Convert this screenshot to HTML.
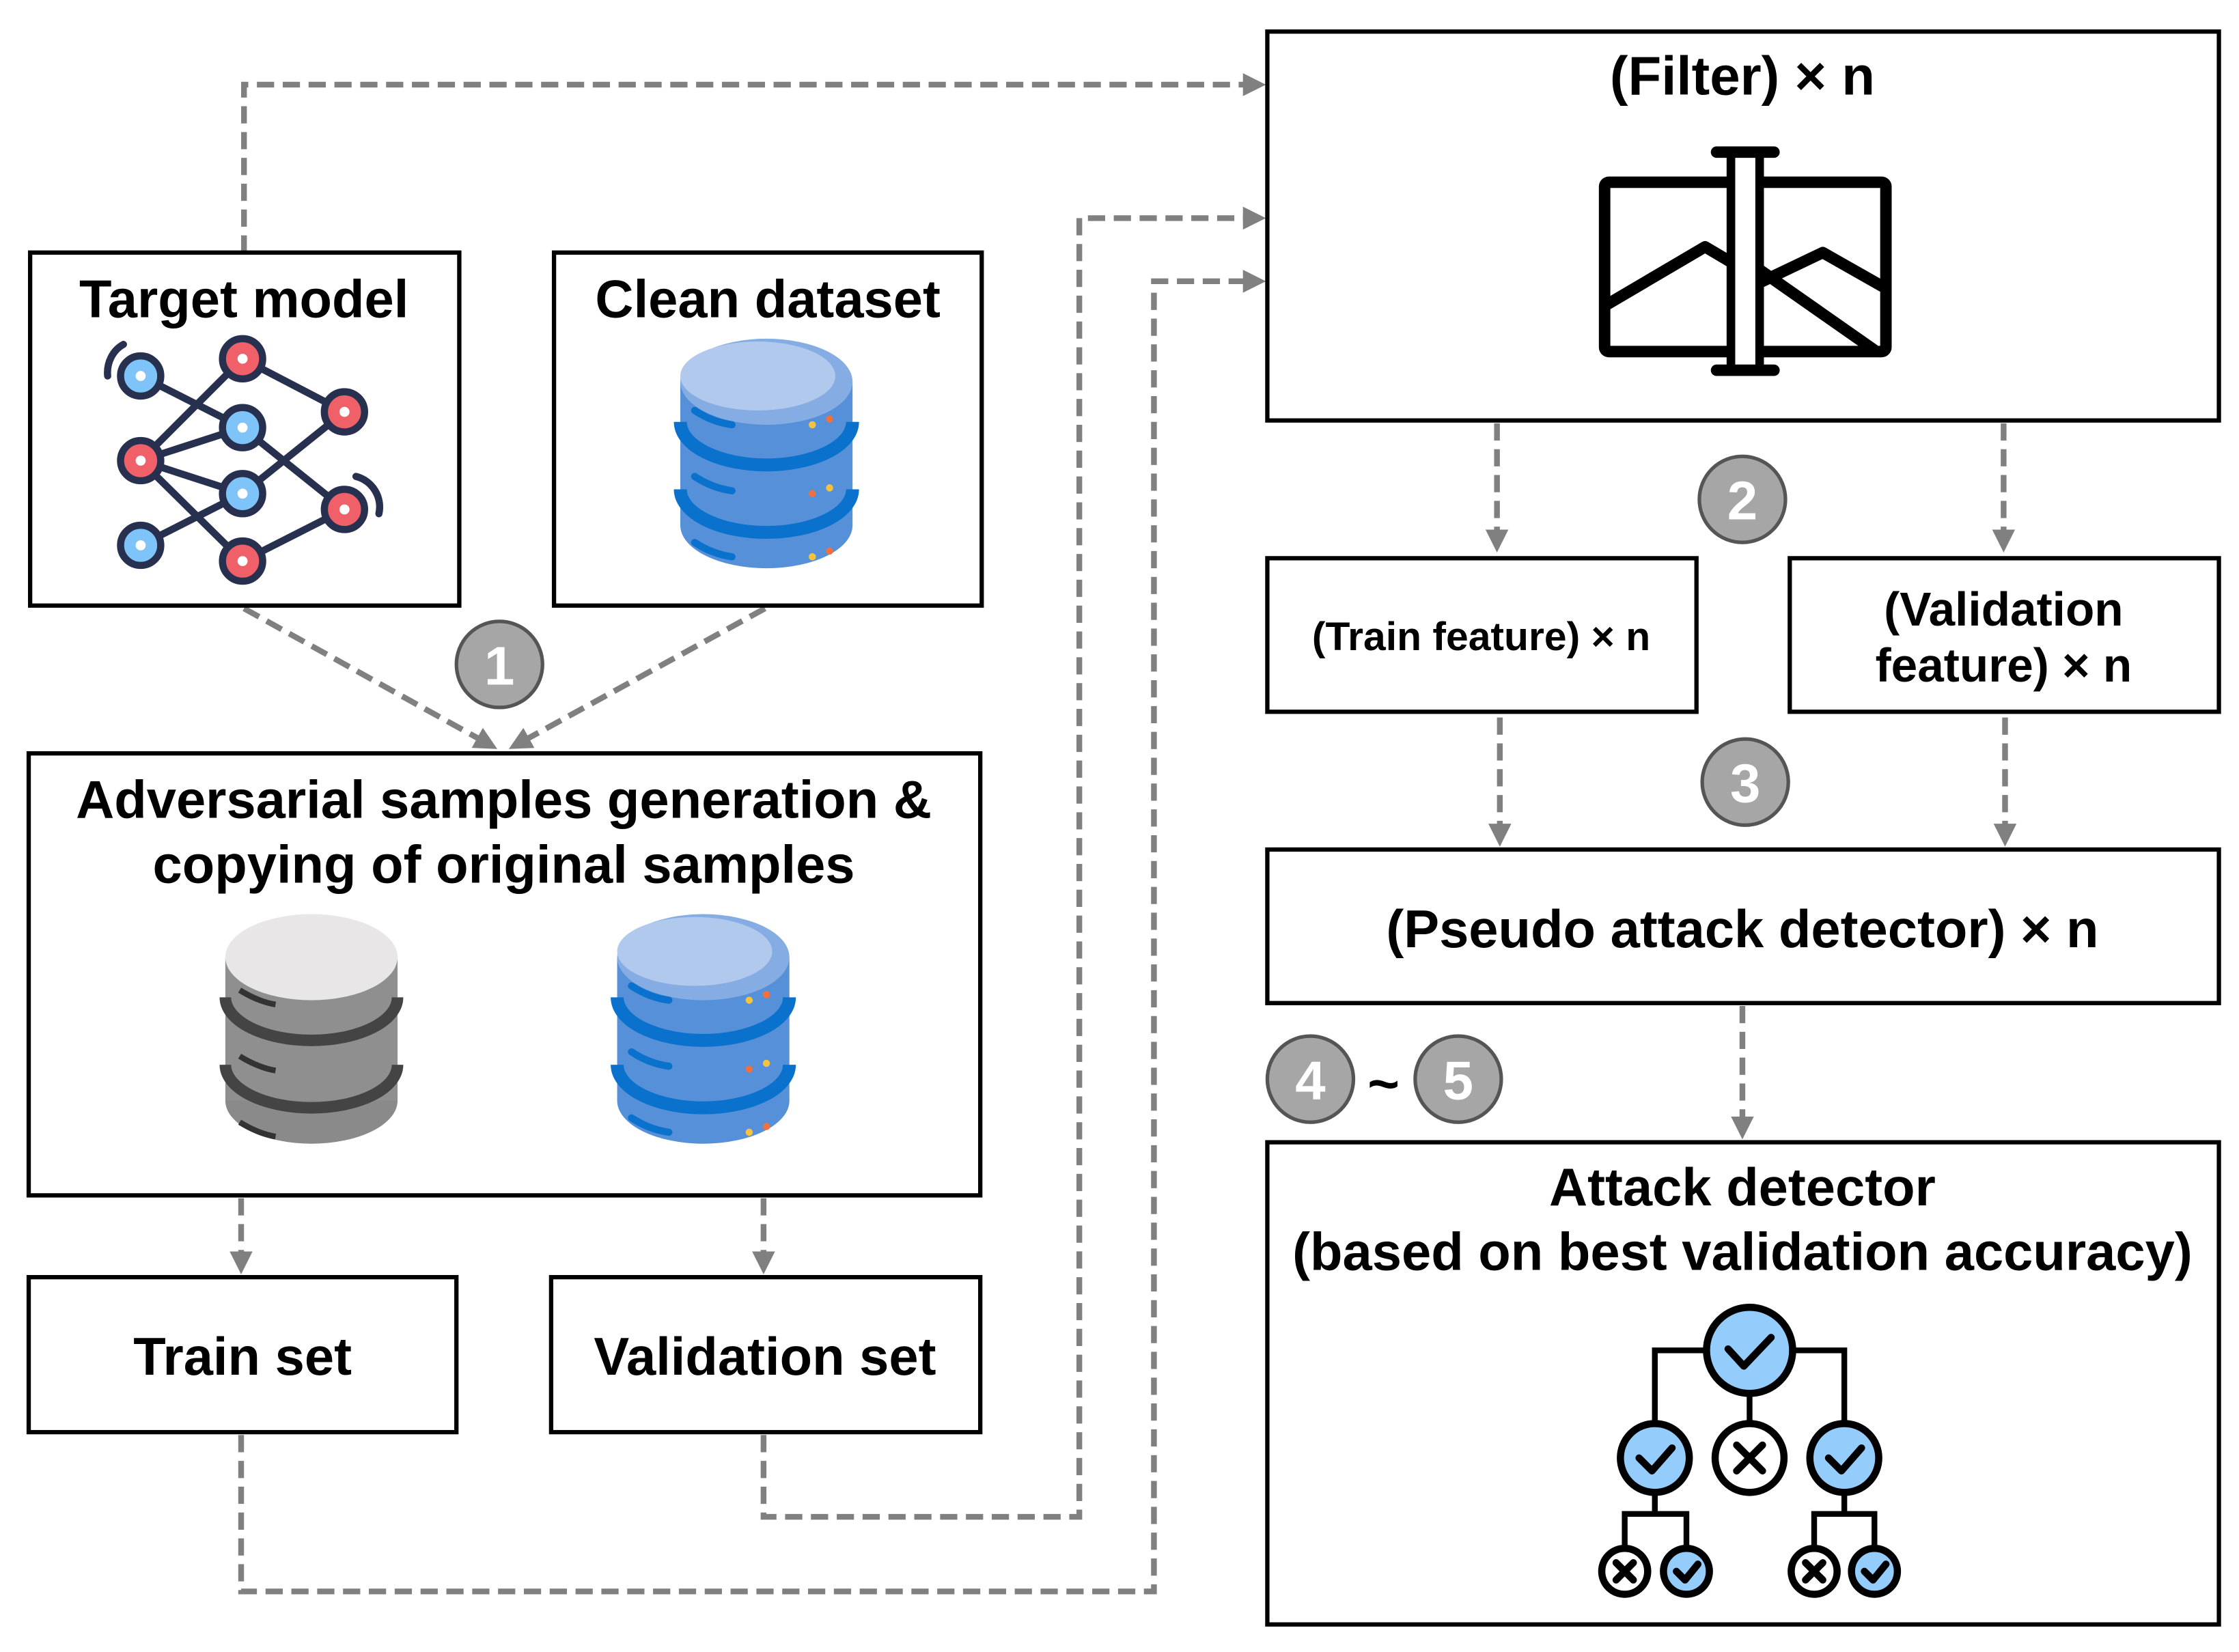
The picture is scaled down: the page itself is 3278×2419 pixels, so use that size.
<!DOCTYPE html>
<html><head><meta charset="utf-8"><style>
html,body{margin:0;padding:0;background:#fff;}
svg{display:block;}
text{font-family:"Liberation Sans",Arial,sans-serif;font-weight:bold;fill:#000;}
</style></head><body>
<svg width="3278" height="2419" viewBox="0 0 1560 1151.2" preserveAspectRatio="none" xmlns="http://www.w3.org/2000/svg">
<defs>
<marker id="ah" markerWidth="4" markerHeight="4" refX="3" refY="2" orient="auto" markerUnits="strokeWidth">
<path d="M0,0 L4,2 L0,4 z" fill="#808080"/>
</marker>
<g id="db">
<ellipse cx="60" cy="130" rx="60" ry="30" fill="#5590d8"/>
<rect x="0" y="30" width="120" height="100" fill="#5590d8"/>
<path d="M0,58 A60,30 0 0 0 120,58" fill="none" stroke="#0a72cc" stroke-width="9"/>
<path d="M0,105 A60,30 0 0 0 120,105" fill="none" stroke="#0a72cc" stroke-width="9"/>
<ellipse cx="60" cy="30" rx="60" ry="30" fill="#85ade4"/>
<ellipse cx="54" cy="26" rx="54" ry="24" fill="#b0c9ec"/>
<path d="M10,50 Q22,58 36,60 M10,96 Q22,104 36,106 M10,142 Q22,150 36,152" stroke="#0a72cc" stroke-width="5" stroke-linecap="round" fill="none"/>
<circle cx="92" cy="60" r="2.5" fill="#f7c23c"/><circle cx="104" cy="56" r="2.5" fill="#f07040"/>
<circle cx="92" cy="108" r="2.5" fill="#f07040"/><circle cx="104" cy="104" r="2.5" fill="#f7c23c"/>
<circle cx="92" cy="152" r="2.5" fill="#f7c23c"/><circle cx="104" cy="148" r="2.5" fill="#f07040"/>
</g>
</defs>

<!-- connectors -->
<g fill="none" stroke="#808080" stroke-width="4" stroke-dasharray="12,6">
<path d="M170,176 V59 H878" marker-end="url(#ah)"/>
<path d="M532,1000 V1057 H752 V152 H878" marker-end="url(#ah)"/>
<path d="M168,1000 V1109 H804 V196 H878" marker-end="url(#ah)"/>
<path d="M170,424 L343,520" marker-end="url(#ah)"/>
<path d="M533,424 L358,520" marker-end="url(#ah)"/>
<path d="M168,835 V884" marker-end="url(#ah)"/>
<path d="M532,835 V884" marker-end="url(#ah)"/>
<path d="M1043,295 V381" marker-end="url(#ah)"/>
<path d="M1396,295 V381" marker-end="url(#ah)"/>
<path d="M1045,500 V586" marker-end="url(#ah)"/>
<path d="M1397,500 V586" marker-end="url(#ah)"/>
<path d="M1214,701 V790" marker-end="url(#ah)"/>
</g>

<!-- boxes -->
<g fill="#fff" stroke="#000" stroke-width="3">
<rect x="21" y="176" width="299" height="246"/>
<rect x="386" y="176" width="298" height="246"/>
<rect x="20" y="525" width="663" height="308"/>
<rect x="20" y="890" width="298" height="108"/>
<rect x="384" y="890" width="299" height="108"/>
<rect x="883" y="22" width="663" height="271"/>
<rect x="883" y="389" width="299" height="107"/>
<rect x="1247" y="389" width="299" height="107"/>
<rect x="883" y="592" width="663" height="107"/>
<rect x="883" y="796" width="663" height="336"/>
</g>

<!-- texts -->
<text x="170" y="221" font-size="37" text-anchor="middle">Target model</text>
<text x="535" y="221" font-size="37" text-anchor="middle">Clean dataset</text>
<text x="351" y="570" font-size="37" text-anchor="middle">Adversarial samples generation &amp;</text>
<text x="351" y="615" font-size="37" text-anchor="middle">copying of original samples</text>
<text x="169" y="958" font-size="37" text-anchor="middle">Train set</text>
<text x="533" y="958" font-size="37" text-anchor="middle">Validation set</text>
<text x="1214" y="66" font-size="38" text-anchor="middle">(Filter) × n</text>
<text x="1032" y="453" font-size="28" text-anchor="middle">(Train feature) × n</text>
<text x="1396" y="436" font-size="33" text-anchor="middle">(Validation</text>
<text x="1396" y="475" font-size="33" text-anchor="middle">feature) × n</text>
<text x="1214" y="660" font-size="37" text-anchor="middle">(Pseudo attack detector) × n</text>
<text x="1214" y="840" font-size="37" text-anchor="middle">Attack detector</text>
<text x="1214" y="885" font-size="37" text-anchor="middle">(based on best validation accuracy)</text>

<!-- step circles -->
<g stroke="#555" stroke-width="2.5" fill="#a6a6a6">
<circle cx="348" cy="463" r="30"/>
<circle cx="1214" cy="348" r="30"/>
<circle cx="1216" cy="545" r="30"/>
<circle cx="913" cy="752" r="30"/>
<circle cx="1016" cy="752" r="30"/>
</g>
<g font-size="38" text-anchor="middle">
<text x="348" y="477" style="fill:#fff">1</text>
<text x="1214" y="362" style="fill:#fff">2</text>
<text x="1216" y="559" style="fill:#fff">3</text>
<text x="913" y="766" style="fill:#fff">4</text>
<text x="1016" y="766" style="fill:#fff">5</text>
</g>
<text x="964" y="768" font-size="38" text-anchor="middle">~</text>

<!-- neural net icon -->
<g stroke="#283050" stroke-width="5" fill="none">
<path d="M98,262 L169,298 M98,321 L169,250 M98,321 L169,298 M98,321 L169,344 M98,321 L169,391 M98,380 L169,344 M169,250 L240,287 M169,298 L240,355 M169,344 L240,287 M169,391 L240,355"/>
<path d="M75,262 A20,22 0 0 1 86,240" stroke-linecap="round"/>
<path d="M248,332 A22,22 0 0 1 264,358" stroke-linecap="round"/>
</g>
<g stroke="#283050" stroke-width="5">
<circle cx="98" cy="262" r="14" fill="#7ec4f8"/>
<circle cx="169" cy="250" r="14" fill="#f06068"/>
<circle cx="169" cy="298" r="14" fill="#7ec4f8"/>
<circle cx="240" cy="287" r="14" fill="#f06068"/>
<circle cx="98" cy="321" r="14" fill="#f06068"/>
<circle cx="169" cy="344" r="14" fill="#7ec4f8"/>
<circle cx="240" cy="355" r="14" fill="#f06068"/>
<circle cx="98" cy="380" r="14" fill="#7ec4f8"/>
<circle cx="169" cy="391" r="14" fill="#f06068"/>
</g>
<g fill="#fff">
<circle cx="98" cy="262" r="3.5"/><circle cx="169" cy="250" r="3.5"/><circle cx="169" cy="298" r="3.5"/>
<circle cx="240" cy="287" r="3.5"/><circle cx="98" cy="321" r="3.5"/><circle cx="169" cy="344" r="3.5"/>
<circle cx="240" cy="355" r="3.5"/><circle cx="98" cy="380" r="3.5"/><circle cx="169" cy="391" r="3.5"/>
</g>

<!-- databases -->
<use href="#db" x="474" y="236"/>
<use href="#db" x="430" y="637"/>
<g>
<ellipse cx="217" cy="767" rx="60" ry="30" fill="#8a8a8a"/>
<rect x="157" y="667" width="120" height="100" fill="#8f8f8f"/>
<path d="M157,695 A60,30 0 0 0 277,695" fill="none" stroke="#444" stroke-width="8"/>
<path d="M157,742 A60,30 0 0 0 277,742" fill="none" stroke="#444" stroke-width="8"/>
<ellipse cx="217" cy="667" rx="60" ry="30" fill="#e8e6e6"/>
<path d="M167,690 Q180,698 192,700 M167,736 Q180,744 192,746 M167,782 Q180,790 192,792" stroke="#333" stroke-width="4" fill="none"/>
</g>

<!-- filter icon -->
<g stroke="#000" stroke-width="8" fill="none" stroke-linejoin="round">
<rect x="1118" y="127" width="196" height="118" rx="3"/>
<path d="M1120,212 L1188,172 L1210,185"/>
<path d="M1226,197 L1270,176 L1314,201"/>
<path d="M1226,188 L1306,244"/>
</g>
<rect x="1206" y="106" width="20" height="152" fill="#fff" stroke="#000" stroke-width="6"/>
<path d="M1196,106 H1236 M1196,258 H1236" stroke="#000" stroke-width="8" stroke-linecap="round"/>

<!-- tree icon -->
<g stroke="#000" stroke-width="4" fill="none">
<path d="M1190,941 H1153 V995 M1248,941 H1285 V995 M1219,970 V993 M1153,1041 V1055 H1132 V1080 M1153,1055 H1175 V1080 M1285,1041 V1055 H1264 V1080 M1285,1055 H1306 V1080"/>
</g>
<g stroke="#000" stroke-width="5">
<circle cx="1219" cy="941" r="30" fill="#94ccfc"/>
<circle cx="1153" cy="1016" r="24" fill="#94ccfc"/>
<circle cx="1219" cy="1016" r="24" fill="#fff"/>
<circle cx="1285" cy="1016" r="24" fill="#94ccfc"/>
<circle cx="1132" cy="1095" r="16" fill="#fff"/>
<circle cx="1175" cy="1095" r="16" fill="#94ccfc"/>
<circle cx="1264" cy="1095" r="16" fill="#fff"/>
<circle cx="1306" cy="1095" r="16" fill="#94ccfc"/>
</g>
<g stroke="#000" stroke-width="5" fill="none" stroke-linecap="round" stroke-linejoin="round">
<path d="M1204,940 L1215,952 L1234,932"/>
<path d="M1142,1016 L1151,1025 L1165,1009"/>
<path d="M1274,1016 L1283,1025 L1297,1009"/>
<path d="M1210,1007 L1228,1025 M1228,1007 L1210,1025"/>
<path d="M1126,1089 L1138,1101 M1138,1089 L1126,1101"/>
<path d="M1258,1089 L1270,1101 M1270,1089 L1258,1101"/>
<path d="M1168,1095 L1174,1101 L1183,1090"/>
<path d="M1299,1095 L1305,1101 L1314,1090"/>
</g>
</svg>
</body></html>
